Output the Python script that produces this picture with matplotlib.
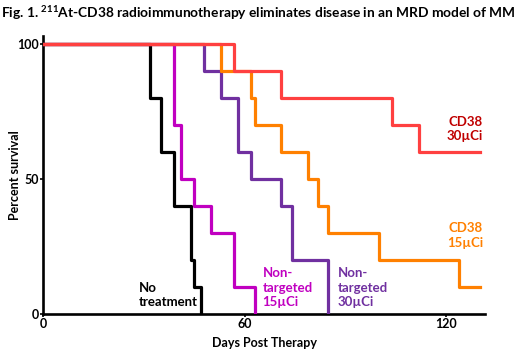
import matplotlib
matplotlib.use("Agg")
import matplotlib.pyplot as plt

plt.rcParams['font.family'] = ['Lato', 'DejaVu Sans']
plt.rcParams['font.weight'] = 'bold'
plt.rcParams['mathtext.fontset'] = 'custom'
plt.rcParams['mathtext.rm'] = 'Lato:bold'
plt.rcParams['mathtext.bf'] = 'Lato:bold'
plt.rcParams['mathtext.it'] = 'Lato:bold'

# survival curves (day of event, percent surviving after it)
no_treat_days = [0, 32, 35, 39, 44, 45, 47]
no_treat_surv = [100, 80, 60, 40, 20, 10, 0]

nt15_days = [0, 39, 41, 45, 50, 57, 63]
nt15_surv = [100, 70, 50, 40, 30, 10, 0]

nt30_days = [0, 48, 53, 58, 62, 71, 74, 85]
nt30_surv = [100, 90, 80, 60, 50, 40, 20, 0]

cd15_days = [0, 53, 62, 63, 71, 79, 82, 85, 100, 124, 130]
cd15_surv = [100, 90, 80, 70, 60, 50, 40, 30, 20, 10, 10]

cd30_days = [0, 57, 71, 104, 112, 130]
cd30_surv = [100, 90, 80, 70, 60, 60]

fig = plt.figure(figsize=(5.2, 3.53), dpi=100)
ax = fig.add_axes([43/520, 1-314/353, (485-43)/520, (314-36)/353])

lw = 2.3
ax.step(no_treat_days, no_treat_surv, where='post', color='black', lw=lw, zorder=3)
ax.step(nt15_days, nt15_surv, where='post', color='#C000C0', lw=lw, zorder=4)
ax.step(nt30_days, nt30_surv, where='post', color='#7030A0', lw=lw, zorder=5)
ax.step(cd15_days, cd15_surv, where='post', color='#FF8000', lw=lw, zorder=6)
ax.step(cd30_days, cd30_surv, where='post', color='#FF4040', lw=lw, zorder=7)

ax.set_xlim(0, 131.6)
ax.set_ylim(0, 103)
ax.set_xticks([0, 60, 120])
ax.set_yticks([0, 50, 100])
for s in ['top', 'right']:
    ax.spines[s].set_visible(False)
for s in ['left', 'bottom']:
    ax.spines[s].set_linewidth(1.9)
    ax.spines[s].set_zorder(2)
ax.tick_params(length=2, width=1.2, labelsize=9, pad=1)

ax.set_xlabel("Days Post Therapy", fontsize=9, fontweight='bold', labelpad=5)
ax.set_ylabel("Percent survival", fontsize=9, fontweight='bold', labelpad=-3)

fs = 9.5
ax.text(125.7, 68.6, "CD38\n30µCi", color='#C00000', fontsize=fs, ha='center', va='center', linespacing=1.25)
ax.text(125.7, 29, "CD38\n15µCi", color='#FF8000', fontsize=fs, ha='center', va='center', linespacing=1.25)
ax.text(65.4, 9.7, "Non-\ntargeted\n15µCi", color='#C000C0', fontsize=fs, ha='left', va='center', linespacing=1.25)
ax.text(87.7, 9.7, "Non-\ntargeted\n30µCi", color='#7030A0', fontsize=fs, ha='left', va='center', linespacing=1.25)
ax.text(28.4, 7, "No\ntreatment", color='black', fontsize=fs, ha='left', va='center', linespacing=1.25)

fig.text(0.002, 1-13/353, r"Fig. 1. $^{211}$At-CD38 radioimmunotherapy eliminates disease in an MRD model of MM",
         fontsize=9.9, fontweight='bold', ha='left', va='center')

fig.savefig("out.png", dpi=100)
